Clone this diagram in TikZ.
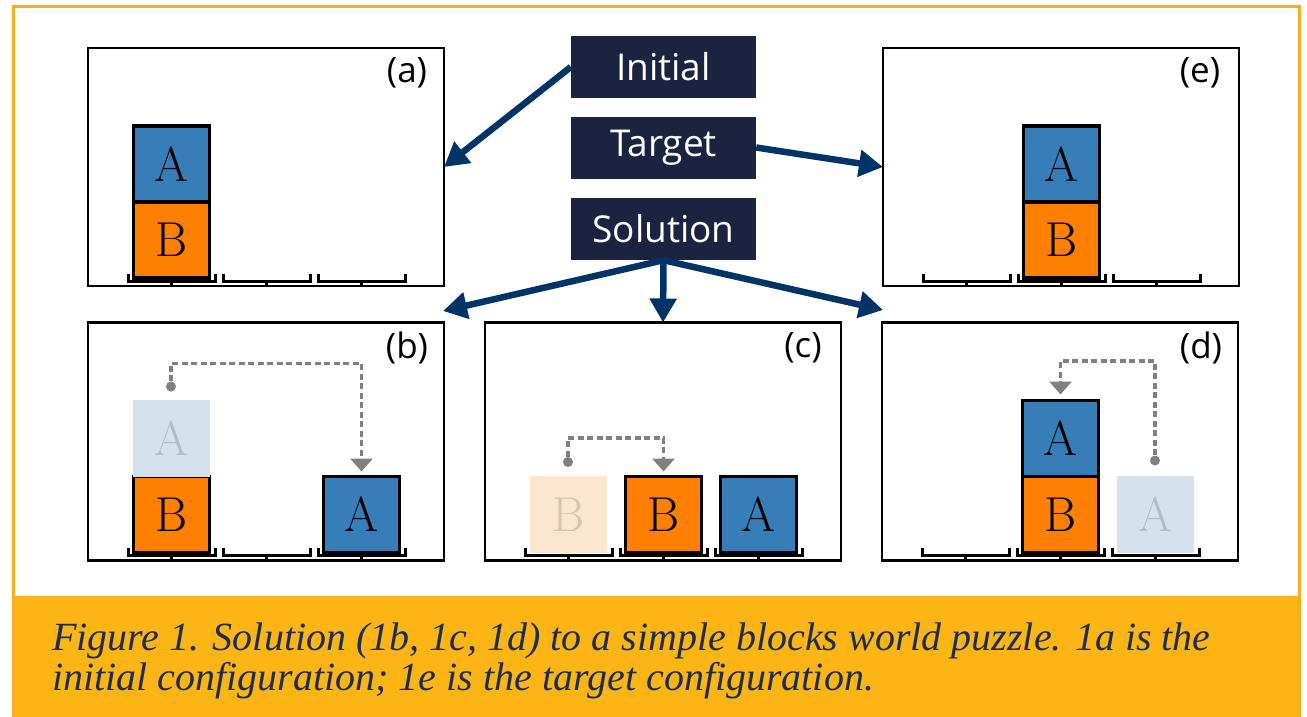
\documentclass[tikz,border=0pt]{standalone}
\usepackage{fontspec}
\newfontfamily\tagfont{Open Sans}
\newfontfamily\capfont{Liberation Serif}
\usetikzlibrary{arrows.meta,positioning}
\definecolor{tagnavy}{HTML}{1B2340}
\definecolor{flowblue}{HTML}{003366}
\definecolor{blockA}{HTML}{377EB8}
\definecolor{blockB}{HTML}{FF7F00}
\definecolor{ghostAfill}{HTML}{D5E2EE}
\definecolor{ghostAtext}{HTML}{B3BDC7}
\definecolor{ghostBfill}{HTML}{FDE6D0}
\definecolor{ghostBtext}{HTML}{D8C4B0}
\definecolor{movegray}{HTML}{808080}
\definecolor{framegold}{HTML}{F6AD1F}
\definecolor{bandgold}{HTML}{FDB515}
\definecolor{captext}{HTML}{1F2D4D}

\begin{document}
\begin{tikzpicture}[x=1pt,y=-1pt,
  panel/.style={draw=black,line width=2.2pt,minimum width=356pt,minimum height=238pt,inner sep=0pt,outer sep=0pt},
  tag/.style={fill=tagnavy,text=white,minimum width=185pt,minimum height=62pt,inner sep=0pt,font=\tagfont\fontsize{37}{37}\selectfont},
  sub/.style={font=\tagfont\fontsize{35}{35}\selectfont},
  blk/.style={draw=black,line width=3.4pt,minimum size=76pt,inner sep=0pt,outer sep=0pt,font=\fontsize{49}{49}\selectfont},
  blkA/.style={blk,fill=blockA},
  blkB/.style={blk,fill=blockB},
  ghost/.style={minimum size=77pt,inner sep=0pt,outer sep=0pt,font=\fontsize{49}{49}\selectfont},
  ghostA/.style={ghost,fill=ghostAfill,text=ghostAtext},
  ghostB/.style={ghost,fill=ghostBfill,text=ghostBtext},
  flow/.style={draw=flowblue,line width=6.5pt,-{Triangle[length=24pt,width=26pt]}},
  move/.style={draw=movegray,line width=3.4pt,dash pattern=on 6pt off 3.5pt,-{Triangle[length=13pt,width=22pt]},shorten >=5pt},
  dot/.style={circle,fill=movegray,minimum size=10pt,inner sep=0pt},
  shelf/.style={line width=3pt},
  caption/.style={anchor=base west,inner sep=0pt,text=captext,font=\capfont\itshape\fontsize{40}{40}\selectfont}]
\useasboundingbox (0,0) rectangle (1307,717);
\fill[bandgold] (12,596) rectangle (1301,717);
\draw[framegold,line width=3pt] (13.5,7) rectangle (1299.5,722);

\node[panel] (pa) at (266,167) {};
\node[panel] (pe) at (1061,167) {};
\node[panel] (pb) at (266,441.5) {};
\node[panel] (pc) at (663,441.5) {};
\node[panel] (pd) at (1060,441.5) {};

\node[sub] (la) at (407,73) {(a)};
\node[sub] (le) at (1200,73) {(e)};
\node[sub] (lb) at (407,348) {(b)};
\node[sub] (lc) at (803,348) {(c)};
\node[sub] (ld) at (1201,348) {(d)};

\foreach \px/\py in {88/286,883/286,88/560.5,485/560.5,882/560.5}
  \foreach \s in {83.5,178.5,273.5}
    \draw[shelf] (\px+\s-43.5,\py-12.5) -- (\px+\s-43.5,\py-5) -- (\px+\s+43.5,\py-5) -- (\px+\s+43.5,\py-12.5)
      (\px+\s,\py-5) -- (\px+\s,\py);

\node[blkB] (aB) at (171.5,240) {B};
\node[blkA,above=0pt of aB] (aA) {A};

\node[blkB] (eB) at (1061.5,240) {B};
\node[blkA,above=0pt of eB] (eA) {A};

\node[blkB] (bB) at (171.5,514.5) {B};
\node[ghostA,above=0pt of bB] (bA0) {A};
\node[blkA] (bA) at (361.5,514.5) {A};

\node[ghostB] (cB0) at (568.5,514.5) {B};
\node[blkB] (cB) at (663.5,514.5) {B};
\node[blkA] (cA) at (758.5,514.5) {A};

\node[blkB] (dB) at (1060.5,514.5) {B};
\node[blkA,above=0pt of dB] (dA) {A};
\node[ghostA] (dA0) at (1155.5,514.5) {A};

\node[dot] (bdot) at (171,386.5) {};
\node[dot] (cdot) at (568,462) {};
\node[dot] (ddot) at (1155,460.5) {};
\draw[move] (bdot) -- ++(0,-23) -| (bA.north);
\draw[move] (cdot) -- ++(0,-24) -| (cB.north);
\draw[move,shorten >=6pt] (ddot) -- ++(0,-99.5) -| (dA.north);

\node[tag] (ini) at (663.5,67) {Initial};
\node[tag] (tgt) at (663.5,147.5) {Target};
\node[tag] (sol) at (663.5,229) {Solution};

\coordinate (bin) at (443,311);
\coordinate (din) at (883,310);
\draw[flow] (ini.west) -- (pa.east);
\draw[flow] (tgt.east) -- (pe.west);
\draw[flow] (sol.south) -- (bin);
\draw[flow] (sol.south) -- (pc.north);
\draw[flow] (sol.south) -- (din);

\node[caption] (cap1) at (52,650) {Figure 1. Solution (1b, 1c, 1d) to a simple blocks world puzzle. 1a is the};
\node[caption] (cap2) at (52,690) {initial configuration; 1e is the target configuration.};
\end{tikzpicture}
\end{document}
